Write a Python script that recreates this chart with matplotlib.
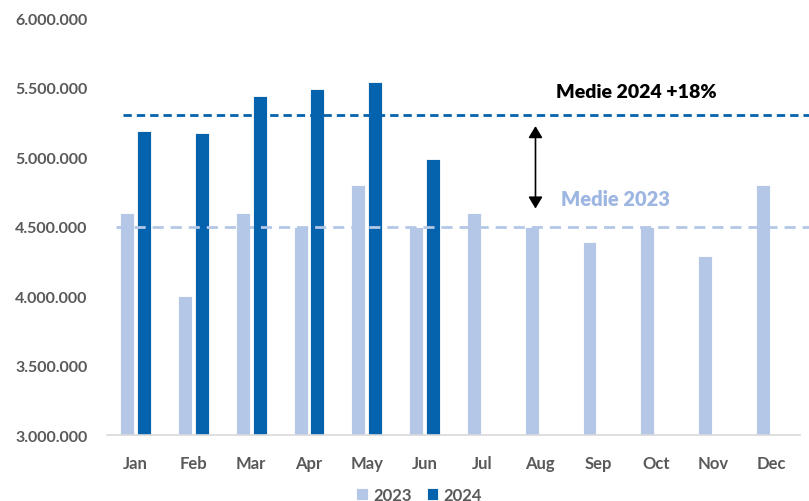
import matplotlib
matplotlib.use("Agg")
import matplotlib.pyplot as plt
import numpy as np

months = ["Jan", "Feb", "Mar", "Apr", "May", "Jun", "Jul", "Aug", "Sep", "Oct", "Nov", "Dec"]
v2023 = [4600000, 4000000, 4600000, 4500000, 4800000, 4500000, 4600000, 4500000, 4390000, 4500000, 4290000, 4800000]
v2024 = [5190000, 5170000, 5440000, 5490000, 5540000, 4990000]
yticks = [3000000, 3500000, 4000000, 4500000, 5000000, 5500000, 6000000]
c2023 = "#B4C7E7"
c2024 = "#0563AE"
gray = "#595959"

plt.rcParams['font.family'] = ['Lato', 'DejaVu Sans']

fig = plt.figure(figsize=(8.09, 5.02), dpi=100)
ax = fig.add_axes([0.132, 0.131, 0.857, 0.831])

x = np.arange(len(months))
w = 0.24
off = 0.145
ax.bar(x - off, v2023, width=w, color=c2023, edgecolor="white", linewidth=0.6, label="2023", zorder=2)
x24 = np.arange(len(v2024))
ax.bar(x24 + off, v2024, width=w, color=c2024, edgecolor="white", linewidth=0.6, label="2024", zorder=2)

m23 = 4500000
m24 = float(np.mean(v2024))
trans = ax.get_yaxis_transform()
ax.plot([0.013, 1.03], [m23, m23], transform=trans, color=c2023, lw=2, ls=(0, (4, 2.5)), clip_on=False, zorder=3)
ax.plot([0.023, 1.03], [m24, m24], transform=trans, color=c2024, lw=2, ls=(0, (3, 1.8)), clip_on=False, zorder=3)

ax.annotate("", xy=(6.92, m24 - 60000), xytext=(6.92, m23 + 110000),
            arrowprops=dict(arrowstyle="<|-|>,head_length=0.5,head_width=0.3", color="black", lw=1.2, mutation_scale=14))
ax.text(8.67, 5475000, "Medie 2024 +18%", ha="center", va="center", fontsize=14,
        fontweight="heavy", color="black")
ax.text(8.3, 4700000, "Medie 2023", ha="center", va="center", fontsize=14.5,
        fontweight="heavy", color="#9DB6E2")

ax.set_xlim(-0.5, 11.5)
ax.set_ylim(3000000, 6000000)
ax.set_xticks(x)
ax.set_xticklabels(months)
ax.set_yticks(yticks)
ax.set_yticklabels([f"{v:,}".replace(",", ".") for v in yticks])
for lab in ax.get_xticklabels():
    lab.set_fontweight("bold")
    lab.set_color(gray)
    lab.set_fontsize(12)
for lab in ax.get_yticklabels():
    lab.set_fontweight("bold")
    lab.set_color(gray)
    lab.set_fontsize(11.5)
ax.tick_params(axis="both", length=0)
ax.tick_params(axis="x", pad=14)
ax.tick_params(axis="y", pad=14)
for s in ["top", "right", "left"]:
    ax.spines[s].set_visible(False)
ax.spines["bottom"].set_color("#D9D9D9")
ax.spines["bottom"].set_linewidth(1.2)

leg = fig.legend(loc="lower center", bbox_to_anchor=(0.518, -0.033), ncol=2, frameon=False,
                 handlelength=0.7, handleheight=0.7, handletextpad=0.3, columnspacing=0.9,
                 prop={"weight": "bold", "size": 12})
for t in leg.get_texts():
    t.set_color(gray)

fig.savefig("out.png", dpi=100)
